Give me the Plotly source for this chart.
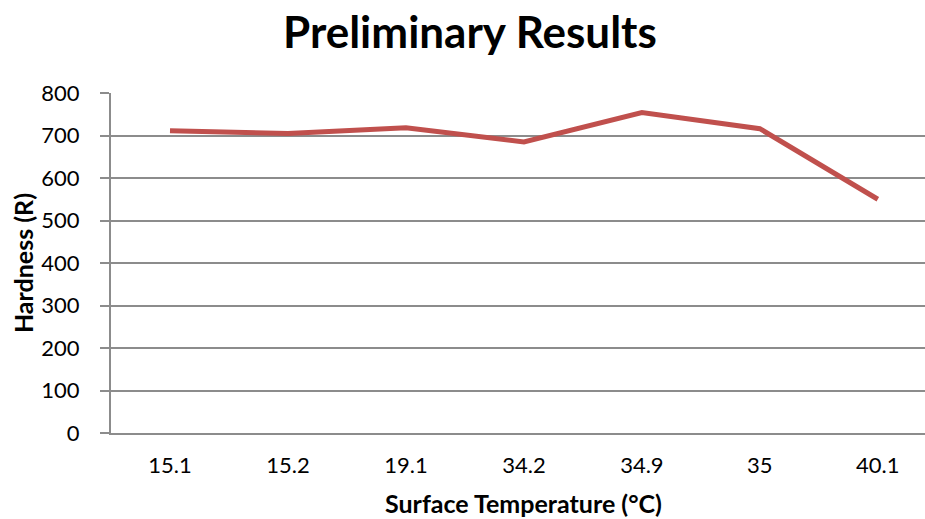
import plotly.graph_objects as go

# Surface temperature categories (°C) and measured hardness (R)
temperatures = ["15.1", "15.2", "19.1", "34.2", "34.9", "35", "40.1"]
hardness = [711, 705, 718, 685, 754, 716, 550]
y_ticks = [0, 100, 200, 300, 400, 500, 600, 700, 800]

FONT = "Lato"
GRID = "#8c8c8c"

fig = go.Figure(
    go.Scatter(
        x=list(range(len(temperatures))),
        y=hardness,
        mode="lines",
        line=dict(color="#C0504D", width=5),
        hoverinfo="skip",
    )
)

fig.update_layout(
    width=925,
    height=519,
    margin=dict(l=111, r=0, t=93, b=86),
    paper_bgcolor="white",
    plot_bgcolor="white",
    showlegend=False,
    title=dict(
        text="<b>Preliminary Results</b>",
        x=0.508,
        xanchor="center",
        y=0.937,
        yanchor="middle",
        font=dict(family=FONT, size=44, color="black"),
    ),
    font=dict(family=FONT, color="black"),
    annotations=[
        dict(
            text="<b>Surface Temperature (°C)</b>",
            xref="paper", yref="paper",
            x=0.507, y=-0.205,
            xanchor="center", yanchor="middle",
            showarrow=False,
            font=dict(size=25),
        ),
        dict(
            text="<b>Hardness (R)</b>",
            xref="paper", yref="paper",
            x=-0.108, y=0.5,
            xanchor="center", yanchor="middle",
            textangle=-90,
            showarrow=False,
            font=dict(size=25),
        ),
    ],
)

fig.update_xaxes(
    tickmode="array",
    tickvals=list(range(len(temperatures))),
    ticktext=temperatures,
    range=[-0.5, 6.4],
    showgrid=False,
    showline=True,
    linecolor=GRID,
    linewidth=2,
    ticks="",
    tickfont=dict(size=22),
    ticklabelstandoff=12,
    zeroline=False,
)

fig.update_yaxes(
    range=[0, 800],
    tickmode="array",
    tickvals=y_ticks,
    showgrid=True,
    gridcolor=GRID,
    gridwidth=2,
    showline=True,
    linecolor=GRID,
    linewidth=2,
    ticks="outside",
    ticklen=9,
    tickcolor=GRID,
    tickwidth=2,
    tickfont=dict(size=22),
    ticklabelstandoff=16,
    zeroline=False,
)

fig.write_html("out.html")
